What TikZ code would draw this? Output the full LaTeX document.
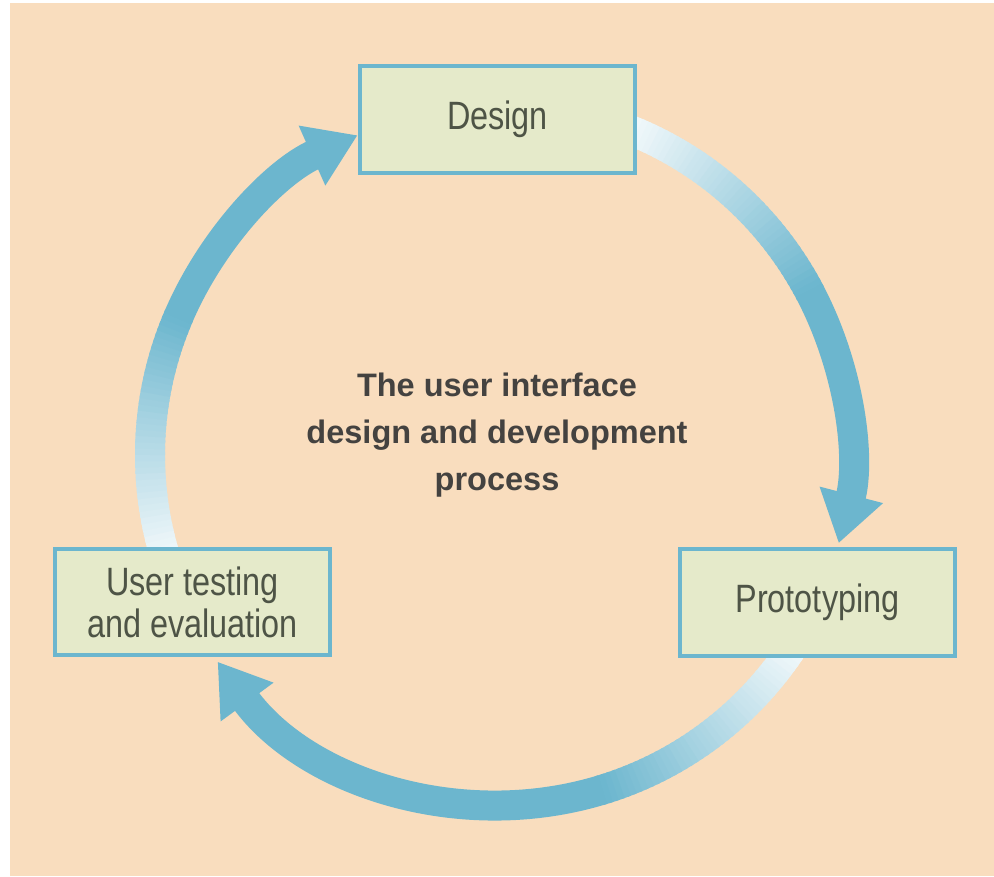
\documentclass[tikz,border=0pt]{standalone}
\usepackage{fontspec}
\setmainfont{Liberation Sans}
\newfontfamily\stagefont[FakeStretch=0.82]{Liberation Sans}
\usetikzlibrary{arrows.meta}

\definecolor{peach}{RGB}{249,221,190}
\definecolor{cycblue}{RGB}{108,182,206}
\definecolor{stagefill}{RGB}{229,234,202}
\definecolor{stagetext}{RGB}{78,84,70}
\definecolor{titletext}{RGB}{68,66,64}

\begin{document}
\begin{tikzpicture}[x=0.02cm,y=0.02cm]
			\tikzstyle{stage}=[rectangle,draw=cycblue,line width=0.08cm,fill=stagefill,minimum width=5.5cm,minimum height=2.14cm,align=center,text=stagetext,font=\stagefont\fontsize{22.5}{24}\selectfont]
			\tikzstyle{band}=[line width=0.6cm]
			\tikzstyle{head}=[-{Triangle[width=1.24cm,length=1cm]}]
			
			\useasboundingbox (0,0) rectangle (994,876);
			\fill[white] (0,0) rectangle (994,876);
			\fill[peach] (10,0) rectangle (994,873);
			
			\coordinate (c) at (500,421);
			
			% arcs: pale at the start, solid blue towards the head
			\foreach \s/\e in {68/-14.6,-33/-143.8,197/114}{
				\foreach \k in {0,...,39}{
					\pgfmathsetmacro\a{\s-\k}
					\pgfmathsetmacro\b{\a-1.5}
					\pgfmathtruncatemacro\p{10+2.3*\k}
					\draw[band,cycblue!\p!white] (c) ++(\a:350) arc[start angle=\a,end angle=\b,radius=350];
				}
				\pgfmathsetmacro\m{\s-40}
				\draw[band,cycblue,head] (c) ++(\m:350) arc[start angle=\m,end angle=\e,radius=350];
			}
			
			\node[stage] (design) at (497.5,756.5) {Design};
			\node[stage] (proto) at (817.5,273.5) {Prototyping};
			\node[stage] (usertest) at (192.5,274) {User testing\\and evaluation};
			
			\node[font=\bfseries\fontsize{18.5}{26.7}\selectfont,text=titletext,align=center] (title) at (497,441) {The user interface\\design and development\\process};
\end{tikzpicture}
\end{document}
